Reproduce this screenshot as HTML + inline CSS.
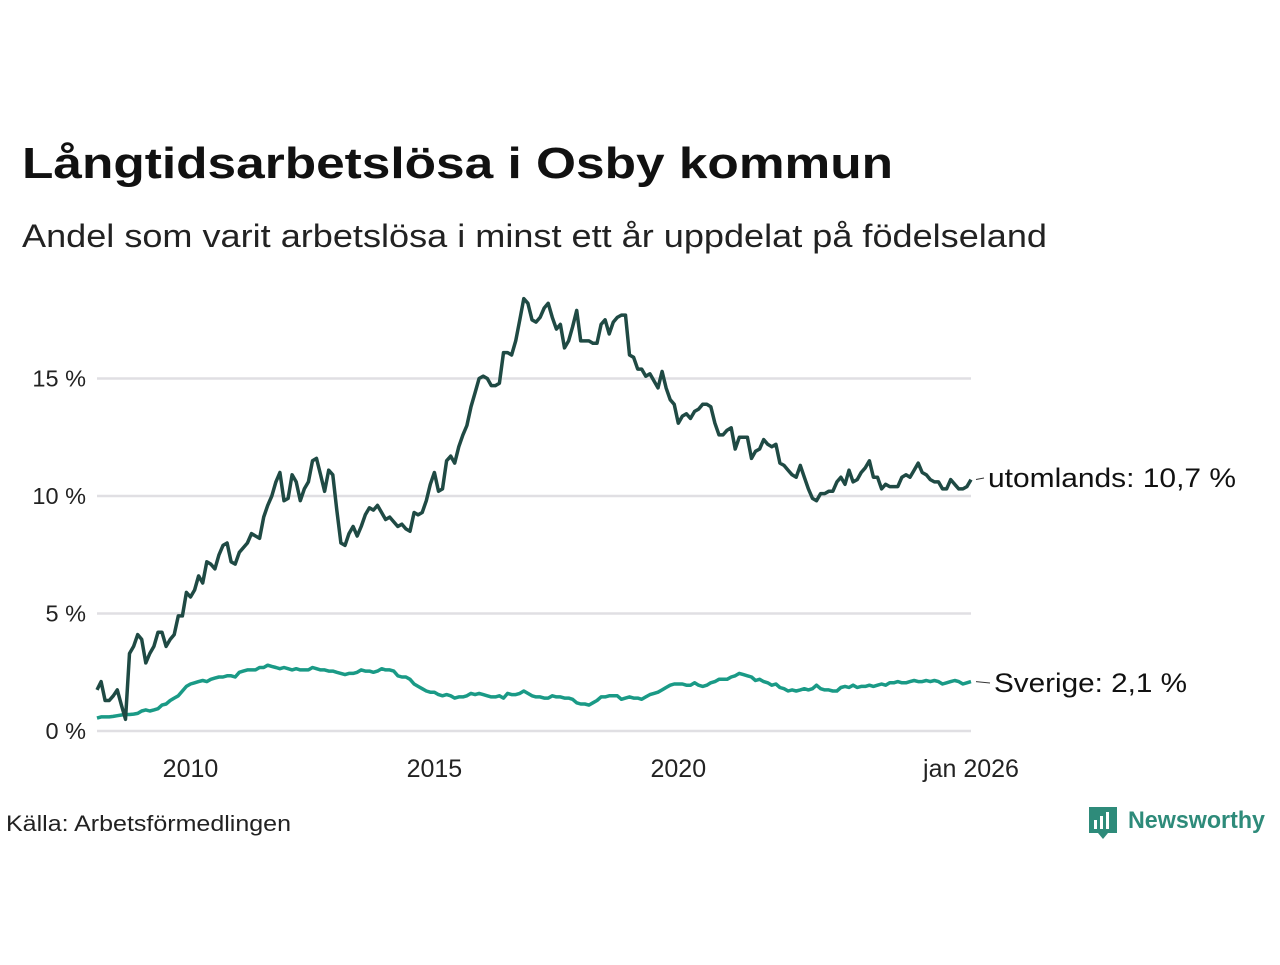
<!DOCTYPE html>
<html><head><meta charset="utf-8"><style>
body{margin:0;background:#fff;width:1280px;height:960px;overflow:hidden;font-family:"Liberation Sans",sans-serif}
</style></head><body>
<svg width="1280" height="960" xmlns="http://www.w3.org/2000/svg">
<text x="22" y="178" font-size="44" font-weight="bold" fill="#111" textLength="871" lengthAdjust="spacingAndGlyphs">Långtidsarbetslösa i Osby kommun</text>
<text x="22" y="247" font-size="32" fill="#222" textLength="1025" lengthAdjust="spacingAndGlyphs">Andel som varit arbetslösa i minst ett år uppdelat på födelseland</text>
<g id="grid"></g><g id="axes"></g><g id="lines"></g>
<text x="6" y="831" font-size="22" fill="#222" textLength="285" lengthAdjust="spacingAndGlyphs">Källa: Arbetsförmedlingen</text>
<g>
<path d="M1089 807 h28 v26 h-9 l-5 6 l-5 -6 h-9 z" fill="#2e8b7a"/>
<rect x="1094" y="820" width="3" height="9" fill="#fff"/><rect x="1100" y="816" width="3" height="13" fill="#fff"/><rect x="1106" y="812" width="3" height="17" fill="#fff"/>
<text x="1128" y="828" font-size="24" font-weight="bold" fill="#2e8b7a" textLength="137" lengthAdjust="spacingAndGlyphs">Newsworthy</text>
</g>
</svg>
<script>
const yTicks=[0,5,10,15];
const yTickLabels=["0 %","5 %","10 %","15 %"];
const xTicks=[2010,2015,2020,2026];
const xTickLabels=["2010","2015","2020","jan 2026"];
const startYear=2008+1/12;
const utomlands=[1.75,2.1,1.3,1.3,1.5,1.75,1.1,0.5,3.3,3.6,4.1,3.9,2.9,3.3,3.6,4.2,4.2,3.6,3.9,4.1,4.9,4.9,5.9,5.7,6.0,6.6,6.3,7.2,7.1,6.9,7.5,7.9,8.0,7.2,7.1,7.6,7.8,8.0,8.4,8.3,8.2,9.1,9.6,10.0,10.6,11.0,9.8,9.9,10.9,10.6,9.8,10.3,10.6,11.5,11.6,10.9,10.2,11.1,10.9,9.4,8.0,7.9,8.4,8.7,8.3,8.7,9.2,9.5,9.4,9.6,9.3,9.0,9.1,8.9,8.7,8.8,8.6,8.5,9.3,9.2,9.3,9.8,10.5,11.0,10.2,10.3,11.5,11.7,11.4,12.1,12.6,13.0,13.8,14.4,15.0,15.1,15.0,14.7,14.7,14.8,16.1,16.1,16.0,16.6,17.5,18.4,18.2,17.5,17.4,17.6,18.0,18.2,17.6,17.1,17.3,16.3,16.6,17.2,17.9,16.6,16.6,16.6,16.5,16.5,17.3,17.5,16.9,17.4,17.6,17.7,17.7,16.0,15.9,15.4,15.4,15.1,15.2,14.9,14.6,15.3,14.6,14.1,13.9,13.1,13.4,13.5,13.3,13.6,13.7,13.9,13.9,13.8,13.1,12.6,12.6,12.8,12.9,12.0,12.5,12.5,12.5,11.6,11.9,12.0,12.4,12.2,12.1,12.2,11.4,11.3,11.1,10.9,10.8,11.3,10.8,10.3,9.9,9.8,10.1,10.1,10.2,10.2,10.6,10.8,10.5,11.1,10.6,10.7,11.0,11.2,11.5,10.8,10.8,10.3,10.5,10.4,10.4,10.4,10.8,10.9,10.8,11.1,11.4,11.0,10.9,10.7,10.6,10.6,10.3,10.3,10.7,10.5,10.3,10.3,10.4,10.7];
const sverige=[.55,.6,.6,.6,.62,.65,.68,.7,.7,.72,.75,
.85,.9,.85,.9,.95,1.1,1.15,1.3,1.4,1.5,1.7,1.9,
2.0,2.05,2.1,2.15,2.1,2.2,2.25,2.3,2.3,2.35,2.35,2.3,
2.5,2.55,2.6,2.6,2.6,2.7,2.7,2.8,2.75,2.7,2.65,2.7,
2.65,2.6,2.65,2.6,2.6,2.6,2.7,2.65,2.6,2.6,2.55,2.55,
2.5,2.45,2.4,2.45,2.45,2.5,2.6,2.55,2.55,2.5,2.55,2.65,
2.6,2.6,2.55,2.35,2.3,2.3,2.2,2.0,1.9,1.8,1.7,1.65,
1.65,1.55,1.5,1.55,1.5,1.4,1.45,1.45,1.5,1.6,1.55,1.6,
1.55,1.5,1.45,1.45,1.5,1.4,1.6,1.55,1.55,1.6,1.7,1.6,
1.5,1.45,1.45,1.4,1.4,1.5,1.45,1.45,1.4,1.4,1.35,1.2,
1.15,1.15,1.1,1.2,1.3,1.45,1.45,1.5,1.5,1.5,1.35,1.4,
1.45,1.4,1.4,1.35,1.45,1.55,1.6,1.65,1.75,1.85,1.95,2.0,
2.0,2.0,1.95,1.95,2.05,1.95,1.9,1.95,2.05,2.1,2.2,2.2,
2.2,2.3,2.35,2.45,2.4,2.35,2.3,2.15,2.2,2.1,2.05,1.95,
2.0,1.85,1.8,1.7,1.75,1.7,1.75,1.8,1.75,1.8,1.95,1.8,
1.75,1.75,1.7,1.7,1.85,1.9,1.85,1.95,1.85,1.9,1.9,1.95,
1.9,1.95,2.0,1.95,2.05,2.05,2.1,2.05,2.05,2.1,2.15,2.1,
2.1,2.15,2.1,2.15,2.1,2.0,2.05,2.1,2.15,2.1,2.0,2.05,2.1];
const NS="http://www.w3.org/2000/svg";
const X0=97,X1=971,T0=startYear,T1=2026;
function xs(t){return X0+(t-T0)/(T1-T0)*(X1-X0);}
function ys(v){return 731-v*23.5;}
function mk(tag,attrs,parent){const e=document.createElementNS(NS,tag);for(const k in attrs)e.setAttribute(k,attrs[k]);parent.appendChild(e);return e;}
const grid=document.getElementById('grid'),axes=document.getElementById('axes'),lines=document.getElementById('lines');
yTicks.forEach((v,i)=>{
 const l=mk('line',{x1:X0,x2:X1,y1:ys(v),y2:ys(v),stroke:'#e0dfe3','stroke-width':2.5},grid);
 
 
 const t=mk('text',{x:86,y:ys(v)+8,'text-anchor':'end','font-size':23.5,fill:'#222'},axes);
 t.textContent=yTickLabels[i];
 
 
});
xTicks.forEach((v,i)=>{
 const t=mk('text',{x:xs(v),y:777,'text-anchor':'middle','font-size':25,fill:'#222'},axes);
 t.textContent=xTickLabels[i];
 
 
});
function drawSeries(arr,color,name,label,lx,ly,lw){
 const n=arr.length;
 const pts=arr.map((v,i)=>[xs(T0+i*(T1-T0)/(n-1)),ys(v)]);
 const p=mk('polyline',{points:pts.map(q=>q[0].toFixed(1)+','+q[1].toFixed(1)).join(' '),fill:'none',stroke:color,'stroke-width':3.5,'stroke-linejoin':'round'},lines);
 
 
 const last=pts[n-1];
 const c=mk('line',{x1:last[0]+5,y1:last[1],x2:lx-4,y2:ly-9,stroke:'#333','stroke-width':1},lines);
 
 
 const t=mk('text',{x:lx,y:ly,'font-size':27,fill:'#111',textLength:lw,lengthAdjust:'spacingAndGlyphs'},lines);
 t.textContent=label;
 
 
}
drawSeries(sverige,'#1a9a86','sverige-line','Sverige:  2,1 %',994,692,193);
drawSeries(utomlands,'#1f4a44','utomlands-line','utomlands: 10,7 %',988,487,248);
</script>
</body></html>
